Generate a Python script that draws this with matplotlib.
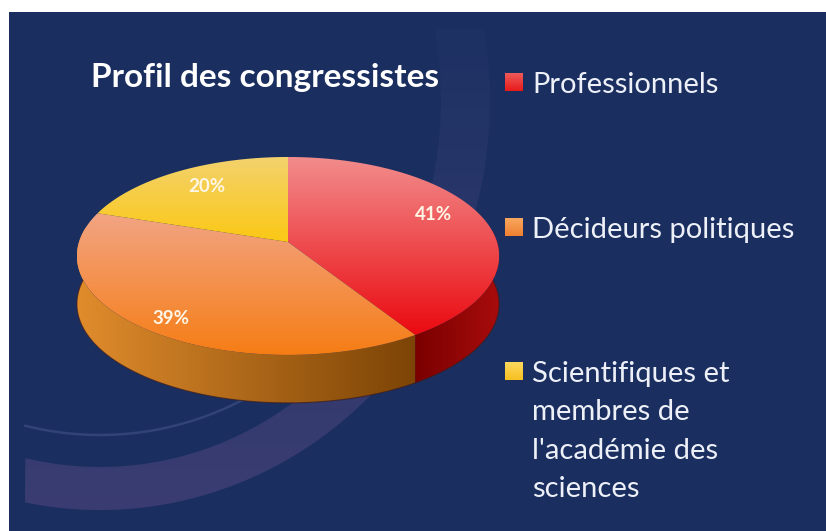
import numpy as np
import matplotlib
matplotlib.use('Agg')
import matplotlib.pyplot as plt
from matplotlib.patches import Polygon, Rectangle
from matplotlib.colors import LinearSegmentedColormap

# Chart data
categories = ['Professionnels', 'Décideurs politiques',
              "Scientifiques et\nmembres de\nl'académie des\nsciences"]
shares = [41, 39, 20]
share_labels = ['41%', '39%', '20%']
label_pos = [(434, 214), (171, 318), (207, 187)]

# gradients: top face (up, down) and side (left, right)
top_colors = [('#f28c8c', '#ea0a10'), ('#f2a484', '#f67d14'), ('#f3d26e', '#fbc814')]
side_colors = [('#7a0000', '#a80c0c'), ('#e08c2c', '#7c4406'), ('#7c5a06', '#7c5a06')]
legend_colors = [('#f05a5a', '#e81a1a'), ('#f7a860', '#f08030'), ('#fbd860', '#f8c020')]
legend_y = [82, 227, 371]
legend_base = [93, 238, 382]

NAVY = '#1a2f60'

# pie geometry, in pixels
CX, CY = 288, 242
A, B, P = 209, 97, 0.141
DEPTH = 48


def project(theta):
    # clockwise from 12 o'clock, tilted disc with a little perspective
    u, v = np.sin(theta), -np.cos(theta)
    w = 1 - P * v
    return CX + A * u / w, CY + B * v / w


def fill_gradient(ax, poly, c1, c2, horizontal=False, z=3):
    cmap = LinearSegmentedColormap.from_list('g', [c1, c2])
    xs, ys = poly[:, 0], poly[:, 1]
    grad = np.linspace(0, 1, 256)
    grad = grad.reshape(1, -1) if horizontal else grad.reshape(-1, 1)
    im = ax.imshow(grad, cmap=cmap, aspect='auto', zorder=z, interpolation='bilinear',
                   extent=[xs.min(), xs.max(), ys.max(), ys.min()])
    patch = Polygon(poly, closed=True, transform=ax.transData, fc='none', ec='none')
    ax.add_patch(patch)
    im.set_clip_path(patch)


def ellipse_pts(a, b, t1, t2):
    # background swoosh centre is at (100, 100)
    t = np.radians(np.linspace(t1, t2, 300))
    x, y = 100 + a * np.cos(t), 100 + b * np.sin(t)
    keep = (x >= 25) & (y >= 28)
    return np.c_[x[keep], y[keep]]


fig = plt.figure(figsize=(8.26, 5.31), dpi=100, facecolor='white')
ax = fig.add_axes([0, 0, 1, 1])
ax.axis('off')

# background
ax.add_patch(Rectangle((9, 12), 817, 519, fc=NAVY, ec='none', zorder=0))

# decorative swoosh behind the pie
band = np.vstack([ellipse_pts(390, 410, -12, 105), ellipse_pts(341, 367, -12, 105)[::-1]])
fill_gradient(ax, band, '#1d3163', '#3b3d72', z=1)
thin = ellipse_pts(320, 335, 60, 105)
ax.plot(thin[:, 0], thin[:, 1], color='#324377', lw=1.8, zorder=1)

# side wall, front half only
starts = np.cumsum([0] + shares[:-1]) / 100 * 2 * np.pi
ends = np.cumsum(shares) / 100 * 2 * np.pi
for i in range(3):
    th = np.linspace(starts[i], ends[i], 200)
    x, y = project(th)
    keep = (th > np.pi * 0.46) & (th < np.pi * 1.55)
    if keep.sum() < 2:
        continue
    x, y = x[keep], y[keep]
    side = np.vstack([np.c_[x, y], np.c_[x[::-1], y[::-1] + DEPTH]])
    fill_gradient(ax, side, *side_colors[i], horizontal=True, z=2)
    ax.plot(x, y + DEPTH, color='#3a1c20', lw=0.8, alpha=0.7, zorder=2.5)

# top faces
for i in range(3):
    th = np.linspace(starts[i], ends[i], 200)
    x, y = project(th)
    face = np.vstack([[CX, CY], np.c_[x, y]])
    fill_gradient(ax, face, *top_colors[i], z=3)

for txt, (x, y) in zip(share_labels, label_pos):
    ax.text(x, y, txt, color='#fff6e6', fontsize=13.5, family='Lato', weight='bold',
            ha='center', va='center', zorder=5)

ax.text(91, 87, 'Profil des congressistes', color='white', fontsize=24, family='Lato',
        weight='bold', ha='left', va='baseline', zorder=5)

# legend
for name, y, base, (c1, c2) in zip(categories, legend_y, legend_base, legend_colors):
    sq = np.array([[505, y - 9], [523, y - 9], [523, y + 9], [505, y + 9]], dtype=float)
    fill_gradient(ax, sq, c1, c2, z=4)
    for k, line in enumerate(name.split('\n')):
        ax.text(532, base + k * 38.3, line, color='#eef0f8', fontsize=21, family='Lato',
                ha='left', va='baseline', zorder=5)

ax.set_xlim(0, 826)
ax.set_ylim(531, 0)
fig.savefig('out.png', dpi=100, facecolor='white')
